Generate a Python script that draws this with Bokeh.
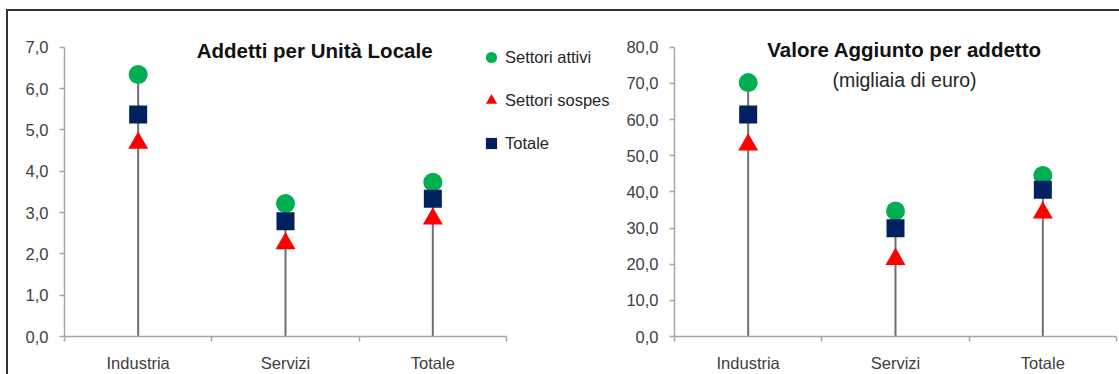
from bokeh.plotting import figure
from bokeh.models import Range1d, FixedTicker, Legend, LegendItem, Label
from bokeh.layouts import row
from bokeh.embed import file_html
from bokeh.resources import INLINE

# ---------------- data ----------------
categories = ["Industria", "Servizi", "Totale"]
series_names = ["Settori attivi", "Settori sospes", "Totale"]

left_title = "Addetti per  Unità Locale"
right_title = "Valore Aggiunto per addetto"
right_subtitle = "(migliaia di euro)"

addetti_attivi = [6.34, 3.22, 3.73]
addetti_sospesi = [4.68, 2.25, 2.85]
addetti_totale = [5.37, 2.79, 3.33]

va_attivi = [70.2, 34.7, 44.5]
va_sospesi = [53.0, 21.4, 34.2]
va_totale = [61.4, 29.9, 40.6]

left_ticks = [0, 1, 2, 3, 4, 5, 6, 7]
left_tick_labels = ["0,0", "1,0", "2,0", "3,0", "4,0", "5,0", "6,0", "7,0"]
right_ticks = [0, 10, 20, 30, 40, 50, 60, 70, 80]
right_tick_labels = ["0,0", "10,0", "20,0", "30,0", "40,0", "50,0", "60,0", "70,0", "80,0"]

# ---------------- style ----------------
FONT = "Liberation Sans"
GREEN = "#00b050"
RED = "#ff0000"
NAVY = "#002060"
AXIS = "#a6a6a6"
STEM = "#707070"
LABEL = "#404040"
FIG_H = 363
BOTTOM = 35          # px below the plotting area
AXIS_H = 292         # px height of the value axis
TOP_PAD = 36         # px above the value axis (titles live here)
CAT_W = 442          # px width of the category axis


def make_chart(width, mbl, attivi, sospesi, totale, ticks, tick_labels):
    n = len(categories)
    frame_w = width - mbl
    x_end = n * frame_w / CAT_W
    span = ticks[-1] - ticks[0]
    y_end = ticks[-1] + span * TOP_PAD / AXIS_H
    p = figure(width=width, height=FIG_H,
               x_range=Range1d(0, x_end),
               y_range=Range1d(ticks[0], y_end),
               output_backend="svg", toolbar_location=None,
               min_border_left=mbl, min_border_right=0,
               min_border_top=0, min_border_bottom=BOTTOM)
    p.outline_line_color = None
    p.grid.visible = False
    p.background_fill_color = "white"
    p.border_fill_color = "white"

    xs = [i + 0.5 for i in range(n)]

    xa = p.xaxis[0]
    xa.bounds = (0, n)
    xa.ticker = FixedTicker(ticks=xs, minor_ticks=list(range(n + 1)))
    xa.major_label_overrides = {x: c for x, c in zip(xs, categories)}
    xa.major_tick_in = 0
    xa.major_tick_out = 0
    xa.minor_tick_in = 0
    xa.minor_tick_out = 5
    xa.minor_tick_line_color = AXIS
    xa.minor_tick_line_width = 1.5
    xa.axis_line_color = AXIS
    xa.axis_line_width = 1.5
    xa.major_label_standoff = 12
    xa.major_label_text_font = FONT
    xa.major_label_text_font_size = "16.5px"
    xa.major_label_text_color = LABEL

    ya = p.yaxis[0]
    ya.bounds = (ticks[0], ticks[-1])
    ya.ticker = FixedTicker(ticks=ticks)
    ya.major_label_overrides = {t: l for t, l in zip(ticks, tick_labels)}
    ya.major_tick_in = 0
    ya.major_tick_out = 5
    ya.major_tick_line_color = AXIS
    ya.major_tick_line_width = 1.5
    ya.minor_tick_line_color = None
    ya.axis_line_color = AXIS
    ya.axis_line_width = 1.5
    ya.major_label_standoff = 11
    ya.major_label_text_font = FONT
    ya.major_label_text_font_size = "16.5px"
    ya.major_label_text_color = LABEL

    tops = [max(a, b, c) for a, b, c in zip(attivi, sospesi, totale)]
    p.segment(x0=xs, y0=[0] * n, x1=xs, y1=tops, line_color=STEM, line_width=2)

    r1 = p.scatter(xs, attivi, marker="circle", size=19, fill_color=GREEN, line_color=None)
    r2 = p.scatter(xs, sospesi, marker="triangle", size=20, fill_color=RED, line_color=None)
    r3 = p.scatter(xs, totale, marker="square", size=18, fill_color=NAVY, line_color=None)
    return p, (r1, r2, r3)


p1, rs = make_chart(612, 56, addetti_attivi, addetti_sospesi, addetti_totale,
                    left_ticks, left_tick_labels)
p2, _ = make_chart(499, 54, va_attivi, va_sospesi, va_totale,
                   right_ticks, right_tick_labels)

legend = Legend(items=[LegendItem(label=n, renderers=[r]) for n, r in zip(series_names, rs)],
                location=(413, 179), orientation="vertical",
                glyph_width=28, glyph_height=28, label_height=28, spacing=15,
                padding=0, margin=0, label_standoff=0,
                border_line_color=None, background_fill_alpha=0,
                label_text_font=FONT, label_text_font_size="16.5px",
                label_text_color="#262626")
p1.add_layout(legend)

p1.add_layout(Label(x=253, y=286, x_units="screen", y_units="screen", text=left_title,
                    text_align="center", text_baseline="middle", text_font=FONT,
                    text_font_size="20.5px", text_font_style="bold", text_color="#111111"))
p2.add_layout(Label(x=230, y=287, x_units="screen", y_units="screen", text=right_title,
                    text_align="center", text_baseline="middle", text_font=FONT,
                    text_font_size="20.5px", text_font_style="bold", text_color="#111111"))
p2.add_layout(Label(x=230, y=257, x_units="screen", y_units="screen", text=right_subtitle,
                    text_align="center", text_baseline="middle", text_font=FONT,
                    text_font_size="19.5px", text_color="#262626"))

layout = row(p1, p2, styles={"margin-left": "6px", "margin-top": "9px",
                             "border-left": "2px solid #333333",
                             "border-top": "2px solid #333333"})

open("out.html", "w").write(file_html(layout, INLINE))
